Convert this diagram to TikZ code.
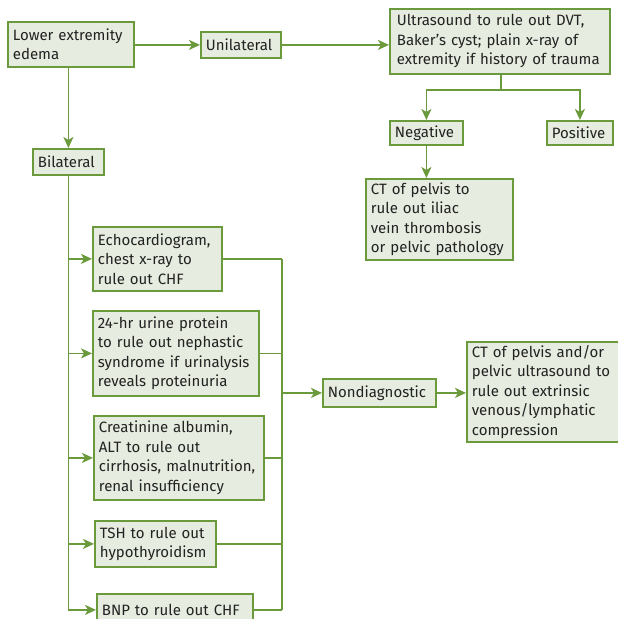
\documentclass[tikz,border=0pt]{standalone}
\usepackage{fontspec}
\setmainfont{Fira Sans}
\usetikzlibrary{arrows.meta}
\definecolor{edge}{HTML}{6B9A3C}
\definecolor{boxfill}{HTML}{E6ECDF}
\definecolor{ink}{HTML}{222222}
\tikzset{
  box/.style={draw=edge, fill=boxfill, line width=1.8pt, anchor=north west,
    inner xsep=5pt, inner ysep=2pt, align=left, text=ink,
    font=\fontsize{15}{19.5}\selectfont},
  link/.style={draw=edge, line width=1.8pt},
  arr/.style={link, -{Stealth[length=11pt,width=10pt,inset=3pt]}}
}
\begin{document}
\begin{tikzpicture}[x=1pt,y=-1pt]
\useasboundingbox (0,0) rectangle (618,619);
\clip (0,0) rectangle (618,619);
% top row
\node[box, text width=116pt, minimum height=45pt] (lee) at (7,21) {Lower extremity\\edema};
\node[box, text width=70pt, minimum height=26pt] (uni) at (200,31) {Unilateral};
\node[box, minimum height=65pt, inner xsep=7pt, text width=206pt] (us) at (389,8)
  {Ultrasound to rule out DVT,\\Baker's cyst; plain x-ray of\\extremity if history of trauma};
\node[box, text width=63pt, minimum height=24pt] (neg) at (389,120) {Negative};
\node[box, text width=56pt, minimum height=24pt] (pos) at (546,120) {Positive};
\node[box, text width=137pt, minimum height=81pt] (ctp) at (365,178)
  {CT of pelvis to\\rule out iliac\\vein thrombosis\\or pelvic pathology};
% bilateral branch
\node[box, text width=61pt, minimum height=26pt] (bil) at (32,148) {Bilateral};
\node[box, text width=119pt, minimum height=64pt] (echo) at (92,226)
  {Echocardiogram,\\chest x-ray to\\rule out CHF};
\node[box, text width=156pt, minimum height=85pt] (urine) at (92,310)
  {24-hr urine protein\\to rule out nephastic\\syndrome if urinalysis\\reveals proteinuria};
\node[box, text width=160pt, minimum height=84pt] (creat) at (93,415)
  {Creatinine albumin,\\ALT to rule out\\cirrhosis, malnutrition,\\renal insufficiency};
\node[box, text width=111pt, minimum height=46pt] (tsh) at (94,520)
  {TSH to rule out\\hypothyroidism};
\node[box, text width=146pt, minimum height=32pt] (bnp) at (96,593)
  {BNP to rule out CHF};
\node[box, text width=103pt, minimum height=28pt] (nd) at (322,378) {Nondiagnostic};
\node[box, text width=160pt, minimum height=100pt] (ctx) at (466,341)
  {CT of pelvis and/or\\pelvic ultrasound to\\rule out extrinsic\\venous/lymphatic\\compression};
% junction points
\coordinate (split) at (501,90);
\coordinate (bus) at (282,258);
% unilateral path
\draw[arr] (lee.east |- uni.west) -- (uni.west);
\draw[arr] (uni.east) -- (us.west |- uni.east);
\draw[link] (us.south -| split) -- (split);
\draw[arr] (split) -| (neg.north);
\draw[arr] (split) -| (pos.north);
\draw[arr] (neg.south) -- (neg.south |- ctp.north);
% bilateral path
\draw[arr] (lee.south -| bil.north) -- (bil.north);
\draw[arr] (bil.south) |- (bnp.west);
\foreach \b in {echo,urine,creat,tsh}
  \draw[arr] (bil.south |- \b.west) -- (\b.west);
\foreach \b in {echo,urine,creat,tsh,bnp}
  \draw[link] (\b.east) -- (bus |- \b.east);
\draw[link] (bus |- echo.east) -- (bus |- bnp.east);
\draw[arr] (bus |- nd.west) -- (nd.west);
\draw[arr] (nd.east) -- (ctx.west |- nd.east);
\end{tikzpicture}
\end{document}
